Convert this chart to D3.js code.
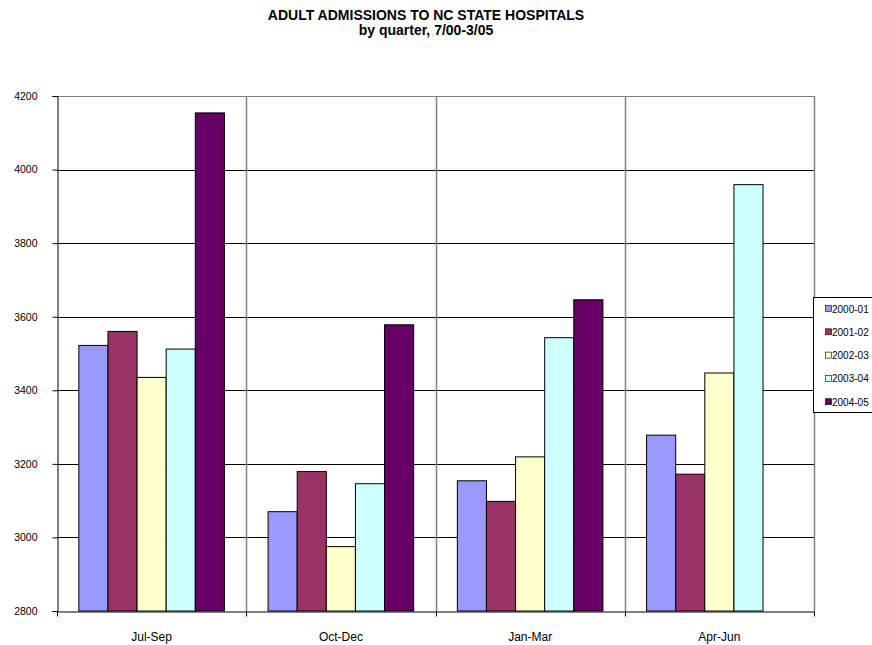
<!DOCTYPE html>
<meta charset="utf-8">
<style>
body { margin: 0; background: #fff; }
svg { font-family: "Liberation Sans", Arial, sans-serif; }
.title { font-size: 14px; font-weight: bold; }
.axis text { font-size: 10.5px; fill: #000; }
.xaxis text { font-size: 12px; }
.legend text { font-size: 10px; }
</style>
<svg width="872" height="645"></svg>
<script src="https://d3js.org/d3.v7.min.js"></script>
<script>
var quarters = ["Jul-Sep", "Oct-Dec", "Jan-Mar", "Apr-Jun"];
var years = ["2000-01", "2001-02", "2002-03", "2003-04", "2004-05"];
var colors = ["#9999FF", "#993366", "#FFFFCC", "#CCFFFF", "#660066"];
var yTicks = [2800, 3000, 3200, 3400, 3600, 3800, 4000, 4200];

// one array per fiscal year, in quarter order (Apr-Jun 2004-05 not reported yet)
var y2000 = [3522, 3070, 3154, 3278];
var y2001 = [3560, 3179, 3098, 3172];
var y2002 = [3435, 2975, 3219, 3447];
var y2003 = [3512, 3146, 3543, 3959];
var y2004 = [4154, 3578, 3646, null];
var series = [y2000, y2001, y2002, y2003, y2004];

var svg = d3.select("svg"),
    plotLeft = 57, plotRight = 814, plotTop = 96, plotBottom = 611;

var x0 = d3.scaleBand().domain(quarters).range([plotLeft, plotRight]);
var x1 = d3.scaleBand().domain(years).range([0, x0.bandwidth()])
    .paddingInner(0).paddingOuter(0.75);
var y = d3.scaleLinear().domain([2800, 4200]).range([plotBottom, plotTop]);
var z = d3.scaleOrdinal().domain(years).range(colors);

svg.append("text").attr("class", "title")
    .attr("x", 426).attr("y", 20).attr("text-anchor", "middle")
    .text("ADULT ADMISSIONS TO NC STATE HOSPITALS");
svg.append("text").attr("class", "title")
    .attr("x", 426).attr("y", 35).attr("text-anchor", "middle")
    .text("by quarter, 7/00-3/05");

// horizontal gridlines
svg.append("g").selectAll("line")
    .data(yTicks.slice(1))
    .enter().append("line")
    .attr("x1", plotLeft).attr("x2", plotRight)
    .attr("y1", d => Math.round(y(d)) + 0.5)
    .attr("y2", d => Math.round(y(d)) + 0.5)
    .attr("stroke", d => d === 4200 ? "#808080" : "#000");

// vertical category separators
svg.append("g").selectAll("line")
    .data(quarters)
    .enter().append("line")
    .attr("x1", d => Math.round(x0(d) + x0.bandwidth()) + 0.5)
    .attr("x2", d => Math.round(x0(d) + x0.bandwidth()) + 0.5)
    .attr("y1", plotTop).attr("y2", plotBottom)
    .attr("stroke", "#808080").attr("stroke-width", 1.5);

// bars
var groups = svg.append("g").selectAll("g")
    .data(quarters)
    .enter().append("g")
    .attr("transform", d => "translate(" + x0(d) + ",0)");
groups.selectAll("rect")
    .data((q, qi) => years.map((k, i) => ({key: k, value: series[i][qi]})).filter(d => d.value != null))
    .enter().append("rect")
    .attr("x", d => x1(d.key))
    .attr("y", d => y(d.value))
    .attr("width", x1.bandwidth())
    .attr("height", d => plotBottom - y(d.value))
    .attr("fill", d => z(d.key))
    .attr("stroke", "#000")
    .attr("stroke-width", 1);

// y axis
var yAxis = svg.append("g").attr("class", "axis")
    .attr("transform", "translate(" + (plotLeft + 0.5) + ",0)")
    .call(d3.axisLeft(y).tickValues(yTicks).tickSize(5).tickPadding(15).tickFormat(d3.format("d")));
yAxis.select(".domain").attr("stroke", "#000");
yAxis.selectAll(".tick line").attr("stroke", "#000");

// x axis
var xAxis = svg.append("g").attr("class", "axis xaxis")
    .attr("transform", "translate(0," + (plotBottom + 0.5) + ")")
    .call(d3.axisBottom(x0).tickSize(0).tickPadding(21));
xAxis.select(".domain").attr("stroke", "#000");
xAxis.append("g").selectAll("line")
    .data([plotLeft].concat(quarters.map(q => x0(q) + x0.bandwidth())))
    .enter().append("line")
    .attr("x1", d => Math.round(d) + 0.5).attr("x2", d => Math.round(d) + 0.5)
    .attr("y1", 0).attr("y2", 5).attr("stroke", "#000");

// legend
var lg = svg.append("g").attr("class", "legend");
lg.append("rect")
    .attr("x", 813.5).attr("y", 297.5)
    .attr("width", 70).attr("height", 115)
    .attr("fill", "#fff").attr("stroke", "#000");
var item = lg.selectAll("g")
    .data(years)
    .enter().append("g")
    .attr("transform", (d, i) => "translate(825," + (309 + i * 23.3) + ")");
item.append("rect")
    .attr("x", 0.5).attr("y", -3.5)
    .attr("width", 6).attr("height", 6)
    .attr("fill", z).attr("stroke", "#000").attr("stroke-width", 0.6);
item.append("text")
    .attr("x", 7).attr("y", 0).attr("dy", "0.35em")
    .text(d => d);
</script>
